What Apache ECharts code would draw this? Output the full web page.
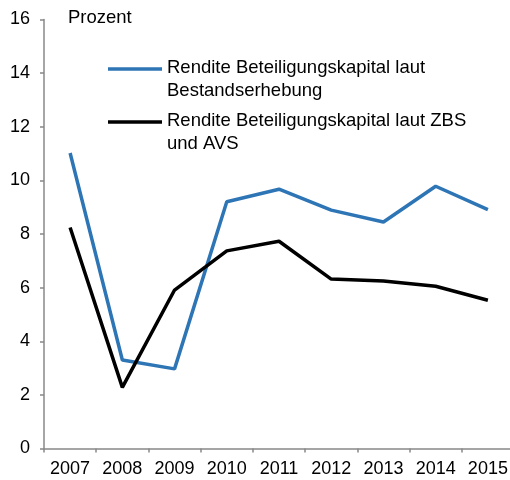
<!DOCTYPE html>
<html>
<head>
<meta charset="utf-8">
<script src="https://cdn.jsdelivr.net/npm/echarts@6/dist/echarts.min.js"></script>
<style>
html,body{margin:0;padding:0;background:#fff;}
#chart{width:510px;height:480px;}
</style>
</head>
<body>
<div id="chart"></div>
<script>
const years = ['2007','2008','2009','2010','2011','2012','2013','2014','2015'];
const bestand = [11.02, 3.30, 2.97, 9.20, 9.67, 8.89, 8.45, 9.78, 8.91];
const zbsAvs = [8.24, 2.28, 5.91, 7.37, 7.73, 6.32, 6.25, 6.05, 5.53];
const seriesNames = ['Rendite Beteiligungskapital laut\nBestandserhebung', 'Rendite Beteiligungskapital laut ZBS\nund AVS'];
const yTicks = [0, 2, 4, 6, 8, 10, 12, 14, 16];
const unitLabel = 'Prozent';

const font = 'Liberation Sans, Arial, sans-serif';
const blue = '#2e75b6';
const chart = echarts.init(document.getElementById('chart'), null, {renderer: 'canvas'});
chart.setOption({
  animation: false,
  backgroundColor: '#fff',
  grid: {left: 44, top: 19.5, width: 470, height: 429, outerBoundsMode: 'none', containLabel: false},
  xAxis: {
    type: 'category',
    data: years,
    boundaryGap: true,
    axisLine: {lineStyle: {color: '#888', width: 1.5}},
    axisTick: {show: true, length: 4, lineStyle: {color: '#888', width: 1.5}},
    axisLabel: {color: '#000', fontSize: 18, fontFamily: font, margin: 12, interval: 0}
  },
  yAxis: {
    type: 'value',
    min: yTicks[0], max: yTicks[yTicks.length - 1], interval: 2,
    axisLine: {show: true, lineStyle: {color: '#888', width: 1.5}},
    axisTick: {show: true, length: 4, lineStyle: {color: '#888', width: 1.5}},
    splitLine: {show: false},
    axisLabel: {color: '#000', fontSize: 18, fontFamily: font, margin: 14}
  },
  series: [
    {name: seriesNames[0], type: 'line', data: bestand, symbol: 'none',
     lineStyle: {color: blue, width: 3.5}, itemStyle: {color: blue}},
    {name: seriesNames[1], type: 'line', data: zbsAvs, symbol: 'none',
     lineStyle: {color: '#000', width: 3.5}, itemStyle: {color: '#000'}}
  ],
  graphic: [
    {type: 'text', left: 68, top: 8, style: {text: unitLabel, fill: '#000', font: '18.5px ' + font}},
    {type: 'line', shape: {x1: 108, y1: 69, x2: 162, y2: 69}, style: {stroke: blue, lineWidth: 3.5}},
    {type: 'text', left: 167, top: 57, style: {text: seriesNames[0], fill: '#000', font: '18.5px ' + font, lineHeight: 22.5}},
    {type: 'line', shape: {x1: 108, y1: 122, x2: 162, y2: 122}, style: {stroke: '#000', lineWidth: 3.5}},
    {type: 'text', left: 167, top: 110, style: {text: seriesNames[1], fill: '#000', font: '18.5px ' + font, lineHeight: 22.5}}
  ]
});
</script>
</body>
</html>
